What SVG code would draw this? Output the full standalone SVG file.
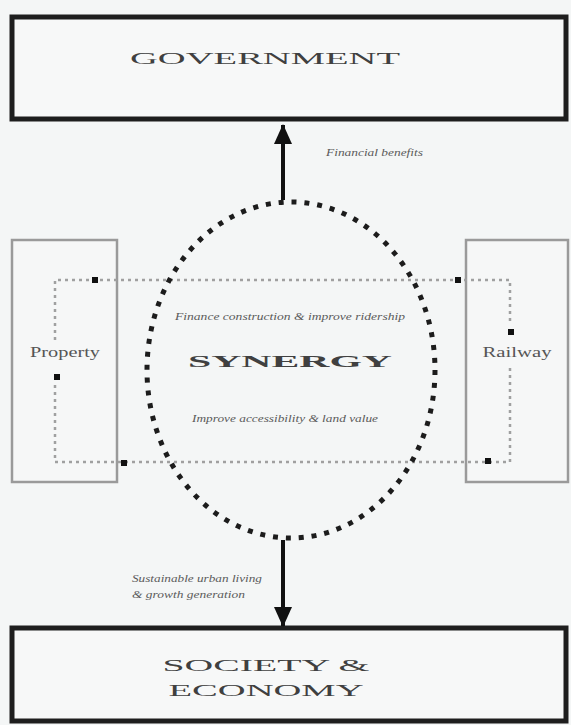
<svg xmlns="http://www.w3.org/2000/svg" width="571" height="725" viewBox="0 0 571 725">
  <defs>
    <style>
      .bigbox { fill: #f7f8f8; stroke: #1e1e1e; stroke-width: 5; }
      .sidebox { fill: #f6f7f7; stroke: #9a9a9a; stroke-width: 2.5; }
      .cap { font-family: "Liberation Serif", "Times New Roman", serif; fill: #404040; }
      .lbl { font-family: "Liberation Serif", "Times New Roman", serif; font-style: italic; fill: #5a5a5a; font-size: 10px; }
      .side { font-family: "Liberation Serif", "Times New Roman", serif; fill: #555; font-size: 15px; }
      .flow { fill: none; stroke: #a0a0a0; stroke-width: 2.5; stroke-dasharray: 3 4; }
      .dot { fill: #111; }
      .main { stroke: #111; stroke-width: 4; fill: none; }
      .ring { fill: none; stroke: #1c1c1c; stroke-width: 5; stroke-dasharray: 5 7.92; }
    </style>
    <marker id="head" markerUnits="userSpaceOnUse" markerWidth="22" markerHeight="20" refX="19" refY="10" orient="auto">
      <path d="M0,1 L20,10 L0,19 Z" fill="#111"/>
    </marker>
  </defs>
  <rect x="0" y="0" width="571" height="725" fill="#f4f6f6"/>

  <g id="government">
    <rect class="bigbox" x="12" y="17" width="554" height="102"/>
    <text class="cap" x="265" y="64" font-size="17" text-anchor="middle" textLength="270" lengthAdjust="spacingAndGlyphs">GOVERNMENT</text>
  </g>

  <g id="property">
    <rect class="sidebox" x="12" y="240" width="105" height="242"/>
    <text class="side" x="65" y="357" text-anchor="middle" textLength="70" lengthAdjust="spacingAndGlyphs">Property</text>
  </g>

  <g id="railway">
    <rect class="sidebox" x="466" y="240" width="102" height="242"/>
    <text class="side" x="517" y="357" text-anchor="middle" textLength="69" lengthAdjust="spacingAndGlyphs">Railway</text>
  </g>

  <g id="society">
    <rect class="bigbox" x="12" y="628" width="554" height="93"/>
    <text class="cap" x="266" y="671" font-size="17" text-anchor="middle" textLength="207" lengthAdjust="spacingAndGlyphs">SOCIETY &amp;</text>
    <text class="cap" x="266" y="696" font-size="17" text-anchor="middle" textLength="195" lengthAdjust="spacingAndGlyphs">ECONOMY</text>
  </g>

  <g id="connectors">
    <path class="flow" d="M55,340 V280 H510 V322"/>
    <path class="flow" d="M510,368 V462 H55 V382"/>
    <rect class="dot" x="92" y="277" width="6" height="6"/>
    <rect class="dot" x="455" y="277" width="6" height="6"/>
    <rect class="dot" x="54" y="374" width="6" height="6"/>
    <rect class="dot" x="508" y="329" width="6" height="6"/>
    <rect class="dot" x="121" y="460" width="6" height="6"/>
    <rect class="dot" x="485" y="458" width="6" height="6"/>
    <line class="main" x1="283" y1="200" x2="283" y2="125" marker-end="url(#head)"/>
    <line class="main" x1="283" y1="540" x2="283" y2="626" marker-end="url(#head)"/>
    <text class="lbl" x="326" y="156" textLength="97" lengthAdjust="spacingAndGlyphs">Financial benefits</text>
    <text class="lbl" x="132" y="582" textLength="130" lengthAdjust="spacingAndGlyphs">Sustainable urban living</text>
    <text class="lbl" x="132" y="598" textLength="113" lengthAdjust="spacingAndGlyphs">&amp; growth generation</text>
  </g>

  <g id="synergy">
    <ellipse class="ring" cx="291" cy="370" rx="144" ry="168"/>
    <text class="lbl" x="290" y="320" text-anchor="middle" textLength="230" lengthAdjust="spacingAndGlyphs">Finance construction &amp; improve ridership</text>
    <text class="cap" x="290" y="367" font-size="17" font-weight="bold" text-anchor="middle" textLength="204" lengthAdjust="spacingAndGlyphs">SYNERGY</text>
    <text class="lbl" x="285" y="422" text-anchor="middle" textLength="186" lengthAdjust="spacingAndGlyphs">Improve accessibility &amp; land value</text>
  </g>
</svg>
